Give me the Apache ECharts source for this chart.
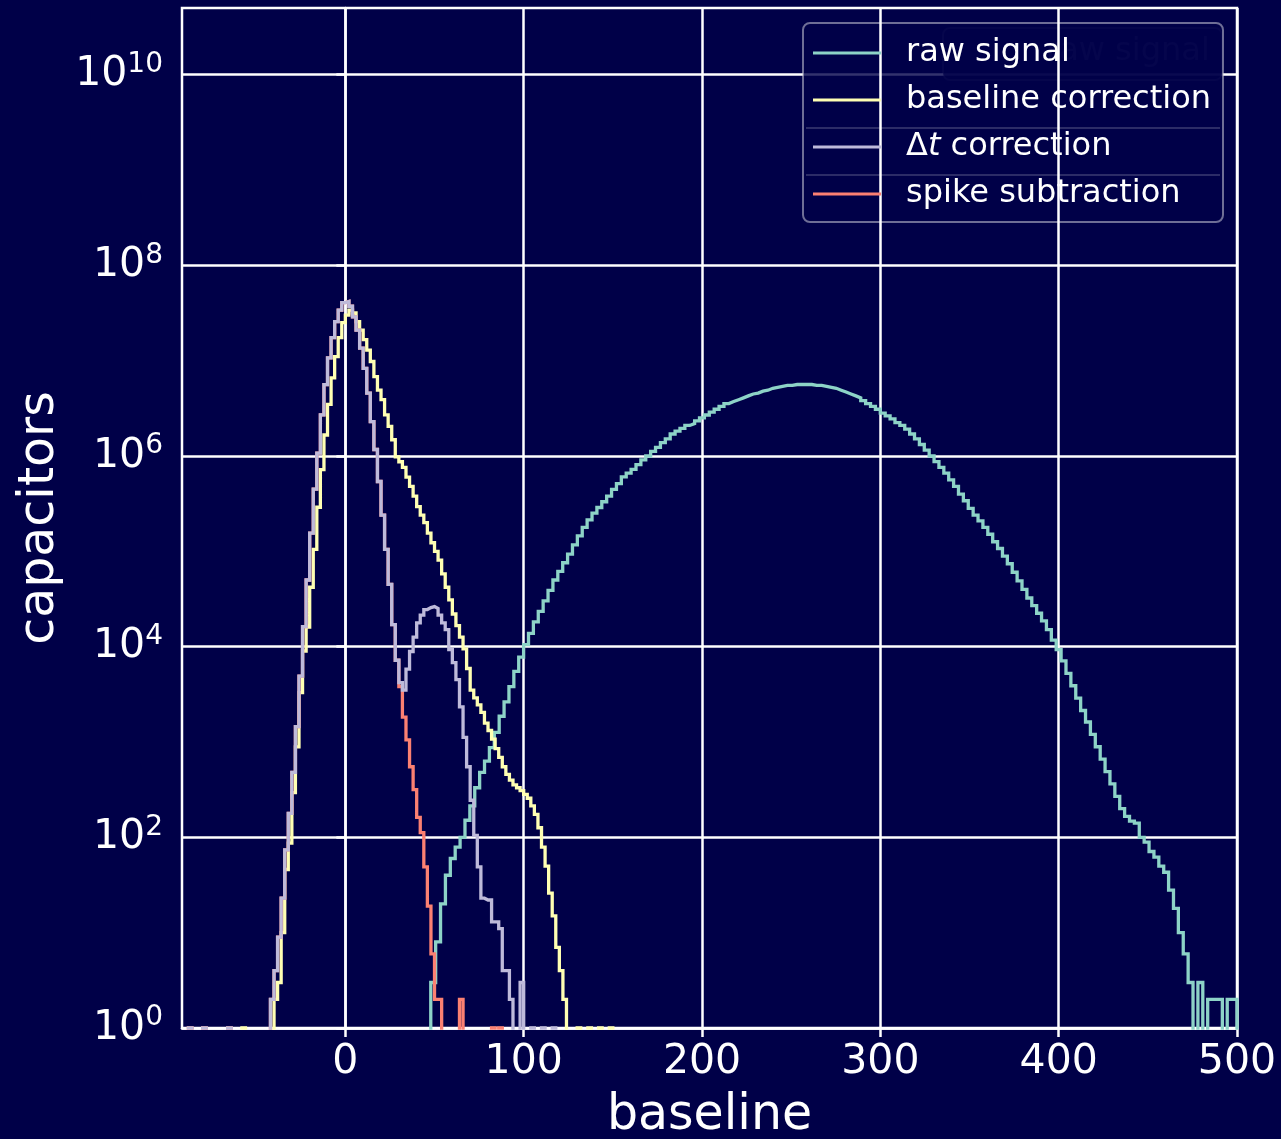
<!DOCTYPE html>
<html><head><meta charset="utf-8">
<script src="https://cdn.jsdelivr.net/npm/echarts@6/dist/echarts.min.js"></script>
<style>html,body{margin:0;padding:0;background:#000048;overflow:hidden;}#c{width:1281px;height:1139px;}</style>
</head><body><div id="c"></div>
<script>
// ---- data (bin start, bin width, counts per bin) ----
const seriesNames = ['raw signal', 'baseline correction', 'Δt correction', 'spike subtraction'];
const seriesColors = ['#8dd3c7', '#ffffb3', '#bebada', '#fb8072'];
const xTickValues = [0, 100, 200, 300, 400, 500];
const yTickValues = [1, 1e2, 1e4, 1e6, 1e8, 1e10];

const rawStart = 47.9, rawWidth = 2.74;
const rawCounts = [
  3, 8, 20, 40, 60, 79, 100, 151, 214, 331,
  479, 631, 871, 1259, 1862, 2630, 3800, 5500, 7760, 1.05e4,
  1.38e4, 1.82e4, 2.34e4, 3.02e4, 3.89e4, 5.0e4, 6.17e4, 7.59e4, 9.33e4, 1.17e5,
  1.45e5, 1.78e5, 2.14e5, 2.51e5, 2.88e5, 3.31e5, 3.8e5, 4.47e5, 5.13e5, 6.03e5,
  6.61e5, 7.24e5, 8.13e5, 9.12e5, 1.0e6, 1.12e6, 1.23e6, 1.38e6, 1.51e6, 1.70e6,
  1.82e6, 1.95e6, 2.09e6, 2.19e6, 2.34e6, 2.51e6, 2.69e6, 2.88e6, 3.09e6, 3.31e6,
  3.55e6, 3.72e6, 3.89e6, 4.07e6, 4.27e6, 4.47e6, 4.57e6, 4.79e6, 4.90e6, 5.13e6,
  5.25e6, 5.37e6, 5.50e6, 5.50e6, 5.62e6, 5.62e6, 5.62e6, 5.62e6, 5.50e6, 5.50e6,
  5.37e6, 5.25e6, 5.13e6, 4.90e6, 4.68e6, 4.47e6, 4.27e6, 4.07e6, 3.80e6, 3.55e6,
  3.31e6, 3.09e6, 2.82e6, 2.63e6, 2.45e6, 2.24e6, 2.09e6, 1.91e6, 1.70e6, 1.51e6,
  1.32e6, 1.15e6, 1.0e6, 8.71e5, 7.59e5, 6.61e5, 5.62e5, 4.79e5, 3.98e5, 3.39e5,
  2.82e5, 2.40e5, 2.09e5, 1.78e5, 1.51e5, 1.26e5, 1.07e5, 8.91e4, 7.41e4, 6.03e4,
  4.90e4, 3.98e4, 3.24e4, 2.69e4, 2.24e4, 1.86e4, 1.51e4, 1.17e4, 9330, 7080,
  5250, 3890, 2880, 2140, 1620, 1200, 891, 661, 490, 363,
  269, 200, 166, 148, 141, 100, 89, 71, 62, 50,
  43, 28, 18, 10, 6, 3, 0, 3, 0, 2,
  2, 2, 0, 2, 2
];

const baseStart = -58, baseWidth = 2;
const baseCounts = [
  1, 0, 0, 0, 0, 0, 0, 0, 0,
  2, 3, 10, 46, 87, 295, 890, 3300, 9000, 1.6e4,
  4.2e4, 1.05e5, 2.9e5, 7.2e5, 1.66e6, 3.47e6, 6.6e6, 1.1e7, 1.74e7, 2.5e7,
  3.0e7, 3.39e7, 3.16e7, 2.57e7, 2.09e7, 1.66e7, 1.29e7, 9.8e6, 6.8e6, 4.9e6,
  3.9e6, 2.7e6, 2.04e6, 1.48e6, 9.8e5, 8.7e5, 7.6e5, 6.0e5, 4.8e5, 3.8e5,
  2.95e5, 2.4e5, 2.0e5, 1.55e5, 1.23e5, 1.0e5, 8.1e4, 5.8e4, 4.2e4, 3.1e4,
  2.2e4, 1.66e4, 1.26e4, 9500, 5900, 3500, 2900, 2450, 2040, 1580,
  1320, 1070, 850, 690, 550, 457, 398, 355, 331, 309,
  282, 257, 214, 174, 126, 79, 50, 26, 15, 7,
  4, 2, 0, 0, 0, 1, 0, 0, 1, 0,
  0, 1, 0, 0, 1
];

const dtStart = -88, dtWidth = 2;
const dtCounts = [
  1, 0, 0, 0, 1, 0, 0, 0, 0, 0, 0, 1, 0, 0, 0, 0, 0, 0, 0, 0, 0, 0, 0,
  2, 4, 9, 23, 74, 178, 479, 1450, 4900, 1.62e4,
  5.0e4, 1.55e5, 4.5e5, 1.07e6, 2.7e6, 5.6e6, 1.07e7, 1.74e7, 2.57e7, 3.39e7,
  4.07e7, 4.17e7, 3.72e7, 2.88e7, 2.09e7, 1.35e7, 8.3e6, 4.57e6, 2.29e6, 1.17e6,
  5.4e5, 2.4e5, 1.05e5, 4.5e4, 1.7e4, 7200, 4200, 3500, 5800, 8900,
  1.26e4, 1.78e4, 2.14e4, 2.45e4, 2.57e4, 2.63e4, 2.51e4, 2.14e4, 1.78e4, 1.51e4,
  9300, 6800, 4500, 2340, 1120, 550, 245, 105, 49, 23,
  22, 22, 13, 13, 11, 4, 4, 2, 0, 0,
  3, 0, 0, 1, 0, 0, 1, 0, 0, 1
];

const spikeStart = -88, spikeWidth = 2;
const spikeCounts = [
  1, 0, 0, 0, 1, 0, 0, 0, 0, 0, 0, 1, 0, 0, 0, 0, 0, 0, 0, 0, 0, 0, 0,
  2, 4, 9, 23, 74, 178, 479, 1450, 4900, 1.62e4,
  5.0e4, 1.55e5, 4.5e5, 1.07e6, 2.7e6, 5.6e6, 1.07e7, 1.74e7, 2.57e7, 3.39e7,
  4.07e7, 4.17e7, 3.72e7, 2.88e7, 2.09e7, 1.35e7, 8.3e6, 4.57e6, 2.29e6, 1.17e6,
  5.4e5, 2.4e5, 1.05e5, 4.5e4, 1.7e4, 7200, 3800, 1820, 1050, 550,
  316, 162, 112, 49, 19, 6, 2, 2, 0, 0,
  0, 0, 0, 2, 0, 0, 0, 0, 0, 0,
  0, 0, 1, 0, 1
];

// ---- build step outlines (matplotlib histtype='step') ----
const FLOOR = 1e-3; // empty bins fall below the log axis and are clipped
function toSteps(start, width, counts) {
  const v = c => (c > 0 ? c : FLOOR);
  const pts = [[start, FLOOR]];
  counts.forEach((c, i) => pts.push([start + i * width, v(c)]));
  const end = start + counts.length * width;
  pts.push([end, v(counts[counts.length - 1])]);
  pts.push([end, FLOOR]);
  return pts;
}

const FONT = 'DejaVu Sans';
const BG = '#000048';
const chart = echarts.init(document.getElementById('c'), null, { renderer: 'canvas', width: 1281, height: 1139 });

function mkSeries(name, color, start, width, counts, z) {
  return {
    type: 'line', name, z, step: 'end', symbol: 'none', showSymbol: false,
    clip: true, silent: true, animation: false,
    data: toSteps(start, width, counts),
    lineStyle: { color, width: 3.3, join: 'miter' },
    itemStyle: { color }
  };
}

const option = {
  backgroundColor: BG,
  animation: false,
  grid: { left: 182, right: 44, top: 8, bottom: 111, show: true, borderColor: '#ffffff', borderWidth: 2.5,
          containLabel: false, outerBoundsMode: 'none' },
  xAxis: {
    type: 'value', min: -91.6, max: 500, z: 4,
    name: 'baseline', nameLocation: 'middle', nameGap: 64,
    nameTextStyle: { color: '#fff', fontSize: 49, fontFamily: FONT, lineHeight: 49 },
    axisLine: { show: true, lineStyle: { color: '#fff', width: 2.5 } },
    axisTick: { show: true, length: 9, lineStyle: { color: '#fff', width: 2.5 }, customValues: xTickValues },
    axisLabel: { color: '#fff', fontSize: 41, fontFamily: FONT, margin: 14, lineHeight: 41, customValues: xTickValues,
      formatter: v => String(Math.round(v)) },
    splitLine: { show: true, lineStyle: { color: '#fff', width: 2.5 } }
  },
  yAxis: {
    type: 'log', logBase: 10, min: 1, max: 5.0e10, z: 2,
    name: 'capacitors', nameLocation: 'middle', nameGap: 117, nameRotate: 90,
    nameTextStyle: { color: '#fff', fontSize: 49, fontFamily: FONT, lineHeight: 49 },
    axisLine: { show: true, lineStyle: { color: '#fff', width: 2.5 } },
    axisTick: { show: true, length: 9, lineStyle: { color: '#fff', width: 2.5 }, customValues: yTickValues },
    axisLabel: {
      color: '#fff', fontFamily: FONT, margin: 19, customValues: yTickValues,
      formatter: v => {
        const n = Math.round(Math.log10(v));
        return '{b|10}{s|' + n + '}';
      },
      rich: {
        b: { fontSize: 41, fontFamily: FONT, color: '#fff', lineHeight: 48 },
        s: { fontSize: 28, fontFamily: FONT, color: '#fff', lineHeight: 24, verticalAlign: 'top' }
      }
    },
    splitLine: { show: true, lineStyle: { color: '#fff', width: 2.5 } }
  },
  legend: {
    orient: 'vertical', left: 813, top: 35, padding: 0, z: 9,
    itemWidth: 68, itemHeight: 3, itemGap: 11, icon: 'rect',
    selectedMode: false,
    data: seriesNames,
    formatter: name => (name === 'Δt correction' ? '{n|Δ}{i|t}{n| correction}' : name),
    textStyle: {
      color: '#fff', fontSize: 32, fontFamily: FONT, lineHeight: 36, padding: [0, 0, 0, 20],
      rich: {
        n: { color: '#fff', fontSize: 32, fontFamily: FONT, lineHeight: 36 },
        i: { color: '#fff', fontSize: 32, fontFamily: FONT, fontStyle: 'italic', lineHeight: 36 }
      }
    }
  },
  graphic: {
    elements: [
      { type: 'rect', z: 3, silent: true, shape: { x: 943, y: 28, width: 279, height: 52, r: 7 },
        style: { fill: 'rgba(0,0,72,0.8)', stroke: 'rgba(200,200,215,0.15)', lineWidth: 2 } },
      { type: 'text', z: 3, silent: true,
        style: { text: 'raw signal', x: 1046, y: 52, fill: 'rgba(255,255,255,0.1)', font: '32px "DejaVu Sans"', verticalAlign: 'middle' } },
      { type: 'rect', z: 3, silent: true, shape: { x: 803, y: 23, width: 420, height: 199, r: 7 },
        style: { fill: 'rgba(0,0,72,0.8)', stroke: 'rgba(200,200,215,0.55)', lineWidth: 2 } },
      { type: 'line', z: 3, silent: true, shape: { x1: 806, y1: 128, x2: 1220, y2: 128 },
        style: { stroke: 'rgba(200,200,215,0.22)', lineWidth: 2 } },
      { type: 'line', z: 3, silent: true, shape: { x1: 806, y1: 175, x2: 1220, y2: 175 },
        style: { stroke: 'rgba(200,200,215,0.22)', lineWidth: 2 } }
    ]
  },
  series: [
    mkSeries(seriesNames[0], seriesColors[0], rawStart, rawWidth, rawCounts, 5),
    mkSeries(seriesNames[1], seriesColors[1], baseStart, baseWidth, baseCounts, 6),
    mkSeries(seriesNames[2], seriesColors[2], dtStart, dtWidth, dtCounts, 8),
    mkSeries(seriesNames[3], seriesColors[3], spikeStart, spikeWidth, spikeCounts, 7)
  ]
};
chart.setOption(option);
</script>
</body></html>
